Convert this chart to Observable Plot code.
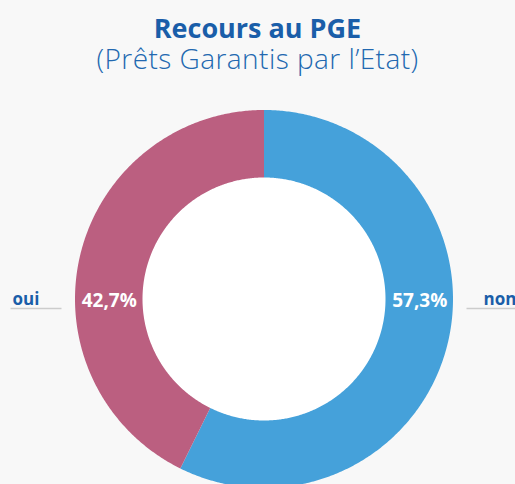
<!DOCTYPE html>
<html><head><meta charset="utf-8">
<script src="https://cdn.jsdelivr.net/npm/d3@7"></script>
<script src="https://cdn.jsdelivr.net/npm/@observablehq/plot@0.6"></script>
<style>
html,body{margin:0;padding:0;background:#f8f8f8;}
body{width:515px;height:484px;overflow:hidden;font-family:"Open Sans",sans-serif;}
#head{height:96px;box-sizing:border-box;padding-top:12px;text-align:center;color:#1a5ea9;}
#head .t{font-size:27px;font-weight:700;line-height:31px;}
#head .s{font-size:28px;font-weight:300;line-height:31px;color:#2268b0;letter-spacing:0.45px;}
#chart svg{display:block;background:transparent;}
</style></head><body>
<div id="head"><div class="t">Recours au PGE</div><div class="s">(Prêts Garantis par l’Etat)</div></div>
<div id="chart"></div>
<script>
const categories = ["non", "oui"];
const values = [57.3, 42.7];
const colors = ["#45a1da", "#bb5f80"];

const W = 515, H = 388;
const cx = 264, cy = 203, rOuter = 189, rInner = 121.5;
const rMid = (rOuter + rInner) / 2;

const arcs = d3.pie().sort(null).startAngle(0).endAngle(2 * Math.PI)(values);
const ring = [];
arcs.forEach((a, i) => {
  const n = Math.max(2, Math.ceil((a.endAngle - a.startAngle) / (Math.PI / 360)));
  for (let k = 0; k <= n; k++) {
    const t = a.startAngle + (a.endAngle - a.startAngle) * k / n;
    ring.push({
      cat: categories[i],
      x1: cx + rOuter * Math.sin(t), y1: cy - rOuter * Math.cos(t),
      x2: cx + rInner * Math.sin(t), y2: cy - rInner * Math.cos(t)
    });
  }
});

const fmt = v => v.toFixed(1).replace(".", ",") + "%";
// percentage labels: "non" on the right, "oui" on the left
const pctLabels = categories.map((c, i) => ({
  cat: c, text: fmt(values[i]), x: c === "non" ? cx + rMid : cx - rMid, y: cy
}));
const nameLabels = [
  {text: "oui", x: 12, y: cy, anchor: "start"},
  {text: "non", x: 483, y: cy, anchor: "start"}
];
const leaders = [
  {x1: 10, x2: 61, y: cy + 9},
  {x1: 466, x2: 520, y: cy + 9}
];

const chart = Plot.plot({
  width: W, height: H,
  margin: 0,
  x: {domain: [0, W], range: [0, W], axis: null},
  y: {domain: [0, H], range: [0, H], axis: null},
  color: {domain: categories, range: colors},
  style: {background: "transparent", overflow: "visible"},
  marks: [
    Plot.dot([0], {x: () => cx, y: () => cy, r: rInner + 1, fill: "white", stroke: "none"}),
    Plot.area(ring, {x1: "x1", y1: "y1", x2: "x2", y2: "y2", z: "cat", fill: "cat", stroke: "none"}),
    Plot.text(pctLabels, {x: "x", y: "y", text: "text", fill: "white", fontSize: 19, fontWeight: 700, fontFamily: "Open Sans", textAnchor: "middle", dy: 1}),
    Plot.text(nameLabels, {x: "x", y: "y", text: "text", fill: "#1a5ea9", fontSize: 17, fontWeight: 700, fontFamily: "Open Sans", textAnchor: "start", dy: 0}),
    Plot.link(leaders, {x1: "x1", x2: "x2", y1: "y", y2: "y", stroke: "#cccccc", strokeWidth: 1.5})
  ]
});
document.getElementById("chart").appendChild(chart);
</script>
</body></html>
